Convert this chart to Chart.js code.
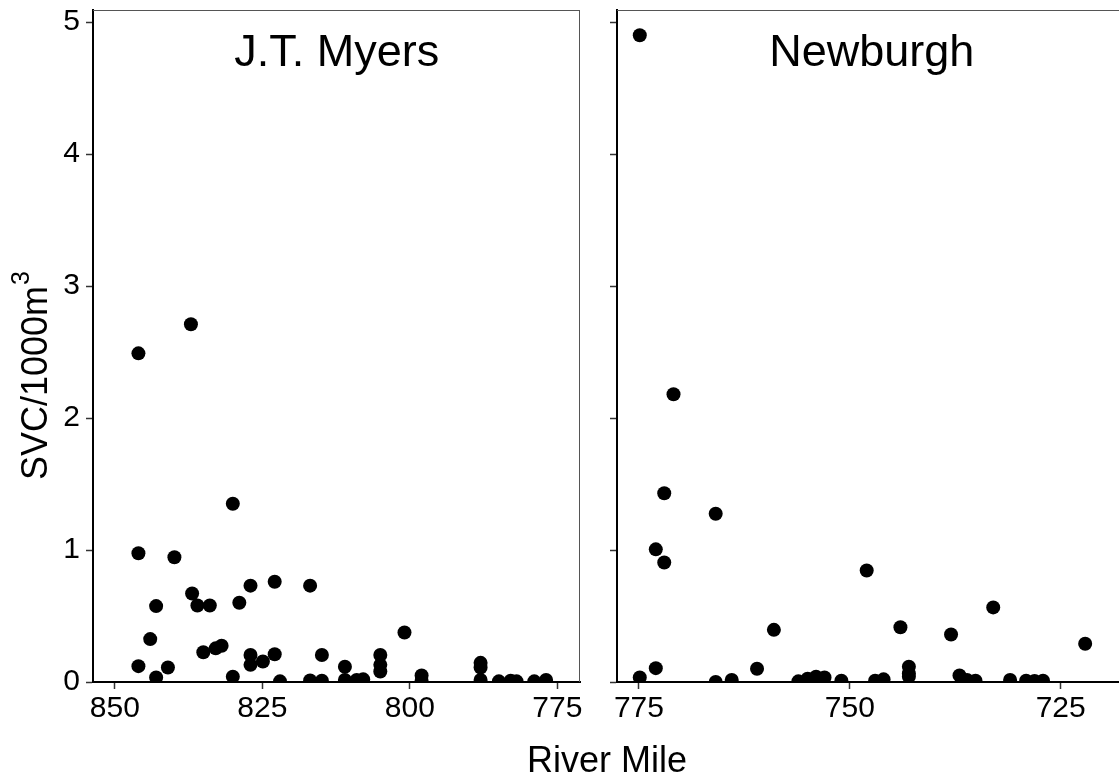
<!DOCTYPE html>
<html>
<head>
<meta charset="utf-8">
<script src="https://cdn.jsdelivr.net/npm/chart.js@4/dist/chart.umd.min.js"></script>
<style>
html, body { margin: 0; padding: 0; background: #fff; overflow: hidden; }
#wrap { position: relative; width: 1119px; height: 780px; background: #fff; }
canvas { position: absolute; left: 0; top: 0; }
</style>
</head>
<body>
<div id="wrap">
  <canvas id="c1" width="1119" height="780"></canvas>
  <canvas id="c2" width="1119" height="780"></canvas>
</div>
<script>
// ---- data ----
const myersMiles = [846.0, 837.1, 830.0, 846.0, 839.9, 836.9, 836.0, 833.9, 843.0, 827.0,
  822.9, 816.9, 828.9, 844.0, 800.9, 835.0, 832.9, 831.9, 827.0, 827.0,
  824.9, 822.9, 814.9, 846.0, 841.0, 843.0, 830.0, 822.0, 816.9, 814.9,
  811.0, 811.0, 809.0, 807.9, 805.0, 805.0, 805.0, 798.0, 798.0, 788.0,
  788.0, 788.0, 784.9, 782.9, 781.9, 778.9, 776.9];
const myersValues = [2.49, 2.71, 1.35, 0.975, 0.945, 0.67, 0.58, 0.58, 0.575, 0.73,
  0.76, 0.73, 0.60, 0.325, 0.375, 0.225, 0.255, 0.275, 0.205, 0.13,
  0.155, 0.21, 0.205, 0.12, 0.11, 0.035, 0.04, 0.005, 0.012, 0.01,
  0.115, 0.015, 0.015, 0.02, 0.205, 0.13, 0.08, 0.05, 0.01, 0.145,
  0.11, 0.015, 0.005, 0.01, 0.005, 0.005, 0.015];

const newburghMiles = [774.9, 770.9, 772.0, 765.9, 773.0, 772.0, 748.0, 733.0, 759.0, 744.0,
  738.0, 722.1, 773.0, 774.9, 761.0, 765.9, 764.0, 756.1, 755.0, 754.0,
  753.0, 751.0, 747.0, 746.0, 743.0, 743.0, 743.0, 737.0, 736.1, 735.1,
  731.0, 729.1, 728.1, 727.1];
const newburghValues = [4.90, 2.18, 1.43, 1.275, 1.005, 0.905, 0.845, 0.565, 0.395, 0.415,
  0.36, 0.29, 0.105, 0.035, 0.10, 0.0, 0.015, 0.005, 0.025, 0.04,
  0.035, 0.01, 0.01, 0.02, 0.115, 0.065, 0.04, 0.05, 0.015, 0.01,
  0.015, 0.01, 0.008, 0.01];

const yTickValues = [0, 1, 2, 3, 4, 5];
const myersTicks = [850, 825, 800, 775];
const newburghTicks = [775, 750, 725];
const panelNames = ['J.T. Myers', 'Newburgh'];
const yTitleMain = 'SVC/1000m';
const yTitleSup = '3';
const xTitle = 'River Mile';

// ---- styling ----
const FONT = '"Liberation Sans", Arial, Helvetica, sans-serif';

function panelPlugin(name, nameMile, drawRightBorder, drawTitles) {
  return {
    id: 'panelDeco',
    afterDraw(chart) {
      const ctx = chart.ctx;
      const a = chart.chartArea;
      ctx.save();
      // thin grey panel border (top / right)
      ctx.strokeStyle = '#555555';
      ctx.lineWidth = 1;
      ctx.beginPath();
      ctx.moveTo(a.left, a.top + 0.5);
      ctx.lineTo(a.right, a.top + 0.5);
      if (drawRightBorder) {
        ctx.moveTo(a.right - 0.5, a.top);
        ctx.lineTo(a.right - 0.5, a.bottom);
      }
      ctx.stroke();
      // panel label
      ctx.fillStyle = '#000';
      ctx.font = '45px ' + FONT;
      ctx.textAlign = 'center';
      ctx.textBaseline = 'alphabetic';
      ctx.fillText(name, chart.scales.x.getPixelForValue(nameMile), 66);
      if (drawTitles) {
        // y title with superscript
        ctx.save();
        ctx.translate(47, 480);
        ctx.rotate(-Math.PI / 2);
        ctx.textAlign = 'left';
        ctx.font = '36px ' + FONT;
        ctx.fillText(yTitleMain, 0, 0);
        const w = ctx.measureText(yTitleMain).width;
        ctx.font = '25px ' + FONT;
        ctx.fillText(yTitleSup, w + 1, -18);
        ctx.restore();
        // x title
        ctx.font = '36px ' + FONT;
        ctx.textAlign = 'center';
        ctx.fillText(xTitle, 607, 772);
      }
      ctx.restore();
    }
  };
}

function makePanel(id, miles, values, xTicks, xMin, xMax, padding, yWidth, showYLabels, name, nameMile, rightBorder, titles) {
  const pts = miles.map((m, i) => ({ x: m, y: values[i] }));
  return new Chart(document.getElementById(id), {
    type: 'scatter',
    data: {
      datasets: [{
        data: pts,
        pointRadius: 7,
        pointHoverRadius: 7,
        backgroundColor: '#000',
        borderColor: '#000',
        borderWidth: 0,
        clip: 0
      }]
    },
    options: {
      responsive: false,
      animation: false,
      events: [],
      layout: { padding: padding, autoPadding: false },
      plugins: { legend: { display: false }, tooltip: { enabled: false } },
      scales: {
        x: {
          type: 'linear', position: 'bottom', reverse: true, min: xMin, max: xMax,
          afterBuildTicks: s => { s.ticks = xTicks.map(v => ({ value: v })); },
          afterFit: s => { s.height = 98; s.paddingLeft = 0; s.paddingRight = 0; },
          grid: { display: true, drawOnChartArea: false, drawTicks: true, tickLength: 7, tickColor: '#333', tickWidth: 1.5, color: '#333' },
          border: { display: true, color: '#000', width: 2 },
          ticks: { font: { family: FONT, size: 30 }, color: '#000', padding: 2, autoSkip: false, maxRotation: 0, callback: v => String(v) }
        },
        y: {
          type: 'linear', position: 'left', min: 0, max: 5.091,
          afterBuildTicks: s => { s.ticks = yTickValues.map(v => ({ value: v })); },
          afterFit: s => { s.width = yWidth; s.paddingTop = 0; s.paddingBottom = 0; },
          grid: { display: true, drawOnChartArea: false, drawTicks: true, tickLength: 7, tickColor: '#333', tickWidth: 1.5, color: '#333' },
          border: { display: true, color: '#000', width: 2 },
          ticks: { display: showYLabels, font: { family: FONT, size: 30 }, color: '#000', padding: 6, autoSkip: false, callback: v => String(v) }
        }
      }
    },
    plugins: [panelPlugin(name, nameMile, rightBorder, titles)]
  });
}

makePanel('c1', myersMiles, myersValues, myersTicks, 771.15, 853.7,
  { left: 0, right: 539, top: 10, bottom: 0 }, 93, true, panelNames[0], 812.4, true, true);
makePanel('c2', newburghMiles, newburghValues, newburghTicks, 718.09, 777.6,
  { left: 597, right: 0, top: 10, bottom: 0 }, 20, false, panelNames[1], 747.4, false, false);
</script>
</body>
</html>
